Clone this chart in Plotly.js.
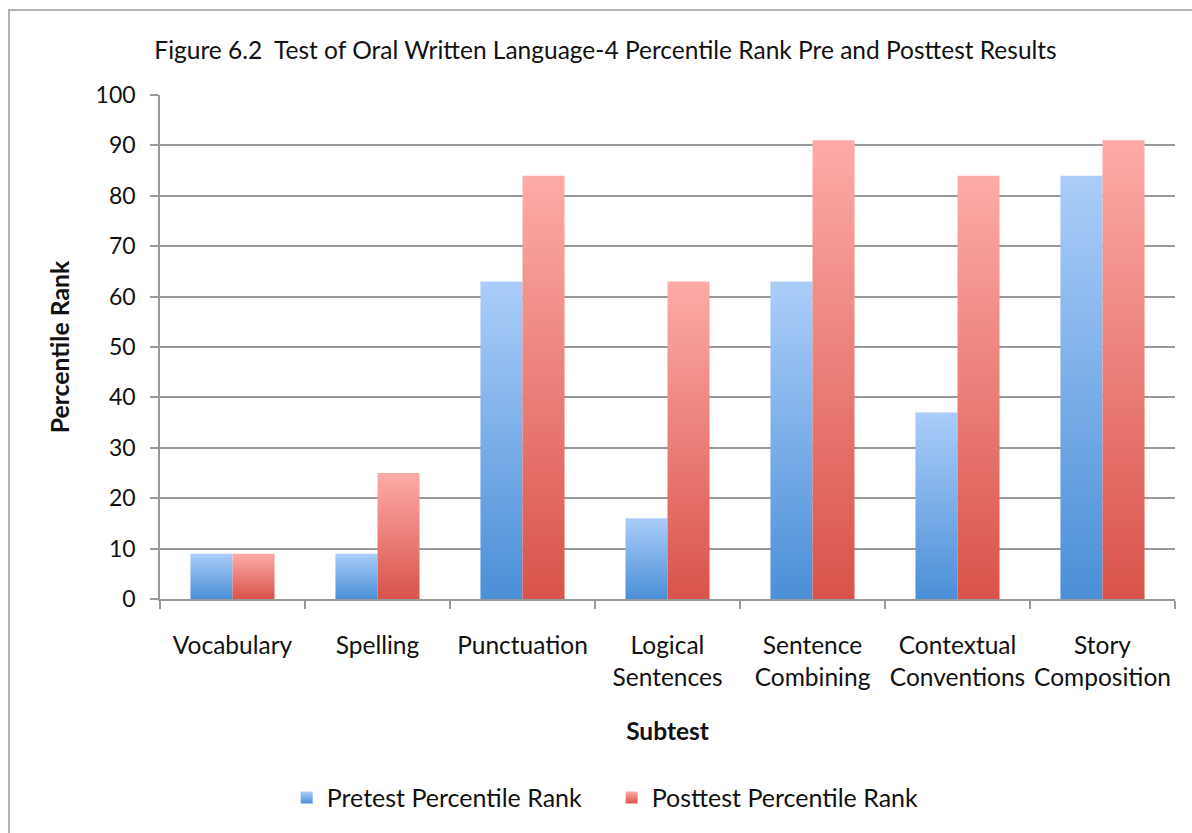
<!DOCTYPE html>
<html>
<head>
<meta charset="utf-8">
<script src="https://cdn.plot.ly/plotly-3.0.1.min.js"></script>
<style>
  html, body { margin: 0; padding: 0; background: #fff; }
  #wrap { position: relative; width: 1192px; height: 833px; overflow: hidden; }
  #chart { position: absolute; left: 0; top: 0; width: 1192px; height: 833px; }
  #frame { position: absolute; left: 8px; top: 9px; width: 1400px; height: 1000px;
           border-left: 2px solid #b3b3b3; border-top: 2px solid #b3b3b3; pointer-events: none; }
</style>
</head>
<body>
<div id="wrap">
  <div id="chart"></div>
  <div id="frame"></div>
</div>
<script>
const categories = ["Vocabulary", "Spelling", "Punctuation", "Logical<br>Sentences",
                    "Sentence<br>Combining", "Contextual<br>Conventions", "Story<br>Composition"];
const pretest  = [9, 9, 63, 16, 63, 37, 84];
const posttest = [9, 25, 84, 63, 91, 84, 91];
const seriesNames = ["Pretest Percentile Rank", "Posttest Percentile Rank"];
const yTicks = [0, 10, 20, 30, 40, 50, 60, 70, 80, 90, 100];

const FONT = "Lato, 'Open Sans', sans-serif";

const traces = [
  { type: "bar", name: seriesNames[0], x: categories, y: pretest,
    marker: { color: "#7aaee8", line: { width: 0 } }, hoverinfo: "y" },
  { type: "bar", name: seriesNames[1], x: categories, y: posttest,
    marker: { color: "#ee8580", line: { width: 0 } }, hoverinfo: "y" }
];

const layout = {
  width: 1192, height: 833,
  paper_bgcolor: "rgba(0,0,0,0)", plot_bgcolor: "rgba(0,0,0,0)",
  margin: { l: 160, r: 17, t: 95, b: 231 },
  font: { family: FONT, color: "#111", size: 24 },
  title: { text: "Figure 6.2  Test of Oral Written Language-4 Percentile Rank Pre and Posttest Results",
           font: { family: FONT, size: 24.5, color: "#111" },
           x: 0.508, xanchor: "center", y: 0.94, yanchor: "middle", xref: "container", yref: "container" },
  barmode: "group", bargap: 0.42, bargroupgap: 0,
  xaxis: {
    type: "category", showgrid: false, showline: true, linecolor: "#999", linewidth: 1.5,
    ticks: "outside", tickson: "boundaries", ticklen: 8, tickcolor: "#999", tickwidth: 1.5,
    ticklabelstandoff: 24, tickangle: 0, automargin: false,
    tickfont: { family: FONT, size: 24.5, color: "#111" },
    title: { text: "<b>Subtest</b>", font: { family: FONT, size: 24.5, color: "#111" }, standoff: 33 },
    fixedrange: true
  },
  yaxis: {
    range: [0, 100], tickvals: yTicks, ticktext: yTicks.map(String),
    showgrid: true, gridcolor: "#999", gridwidth: 1.5,
    showline: true, linecolor: "#999", linewidth: 1.5, zeroline: false,
    ticks: "outside", ticklen: 8, tickcolor: "#999", tickwidth: 1.5,
    ticklabelstandoff: 10,
    tickfont: { family: FONT, size: 23, color: "#111" },
    title: { text: "<b>Percentile Rank</b>", font: { family: FONT, size: 24.8, color: "#111" }, standoff: 19 },
    fixedrange: true
  },
  showlegend: true,
  legend: { orientation: "h", x: 0.445, xanchor: "center", y: -0.3945, yanchor: "middle",
            entrywidth: 280, entrywidthmode: "pixels",
            font: { family: FONT, size: 25, color: "#111" }, itemclick: false, itemdoubleclick: false,
            traceorder: "normal" }
};

function addGradients() {
  const svgs = document.querySelectorAll("#chart svg.main-svg");
  if (!svgs.length) return;
  const ns = "http://www.w3.org/2000/svg";
  const grads = [["gradPre", "#abcdf9", "#4b8fd7"], ["gradPost", "#fdaba7", "#d9534b"]];
  const svg = svgs[0];
  if (!document.getElementById("gradPre")) {
    const defs = document.createElementNS(ns, "defs");
    grads.forEach(([id, top, bot]) => {
      const g = document.createElementNS(ns, "linearGradient");
      g.setAttribute("id", id);
      g.setAttribute("x1", "0"); g.setAttribute("y1", "0");
      g.setAttribute("x2", "0"); g.setAttribute("y2", "1");
      [[0, top], [1, bot]].forEach(([o, c]) => {
        const s = document.createElementNS(ns, "stop");
        s.setAttribute("offset", o); s.setAttribute("stop-color", c);
        g.appendChild(s);
      });
      defs.appendChild(g);
    });
    svg.insertBefore(defs, svg.firstChild);
  }
  document.querySelectorAll("#chart .barlayer .trace.bars").forEach((t, i) => {
    t.querySelectorAll("path").forEach(p => { p.style.fill = "url(#" + grads[i % 2][0] + ")"; });
  });
  document.querySelectorAll("#chart .legend .traces").forEach((t, i) => {
    t.querySelectorAll(".legendpoints path").forEach(p => { p.style.fill = "url(#" + grads[i % 2][0] + ")"; });
  });
}

const gd = document.getElementById("chart");
Plotly.newPlot(gd, traces, layout, { displayModeBar: false, staticPlot: false }).then(() => {
  addGradients();
  gd.on("plotly_afterplot", addGradients);
});
</script>
</body>
</html>
